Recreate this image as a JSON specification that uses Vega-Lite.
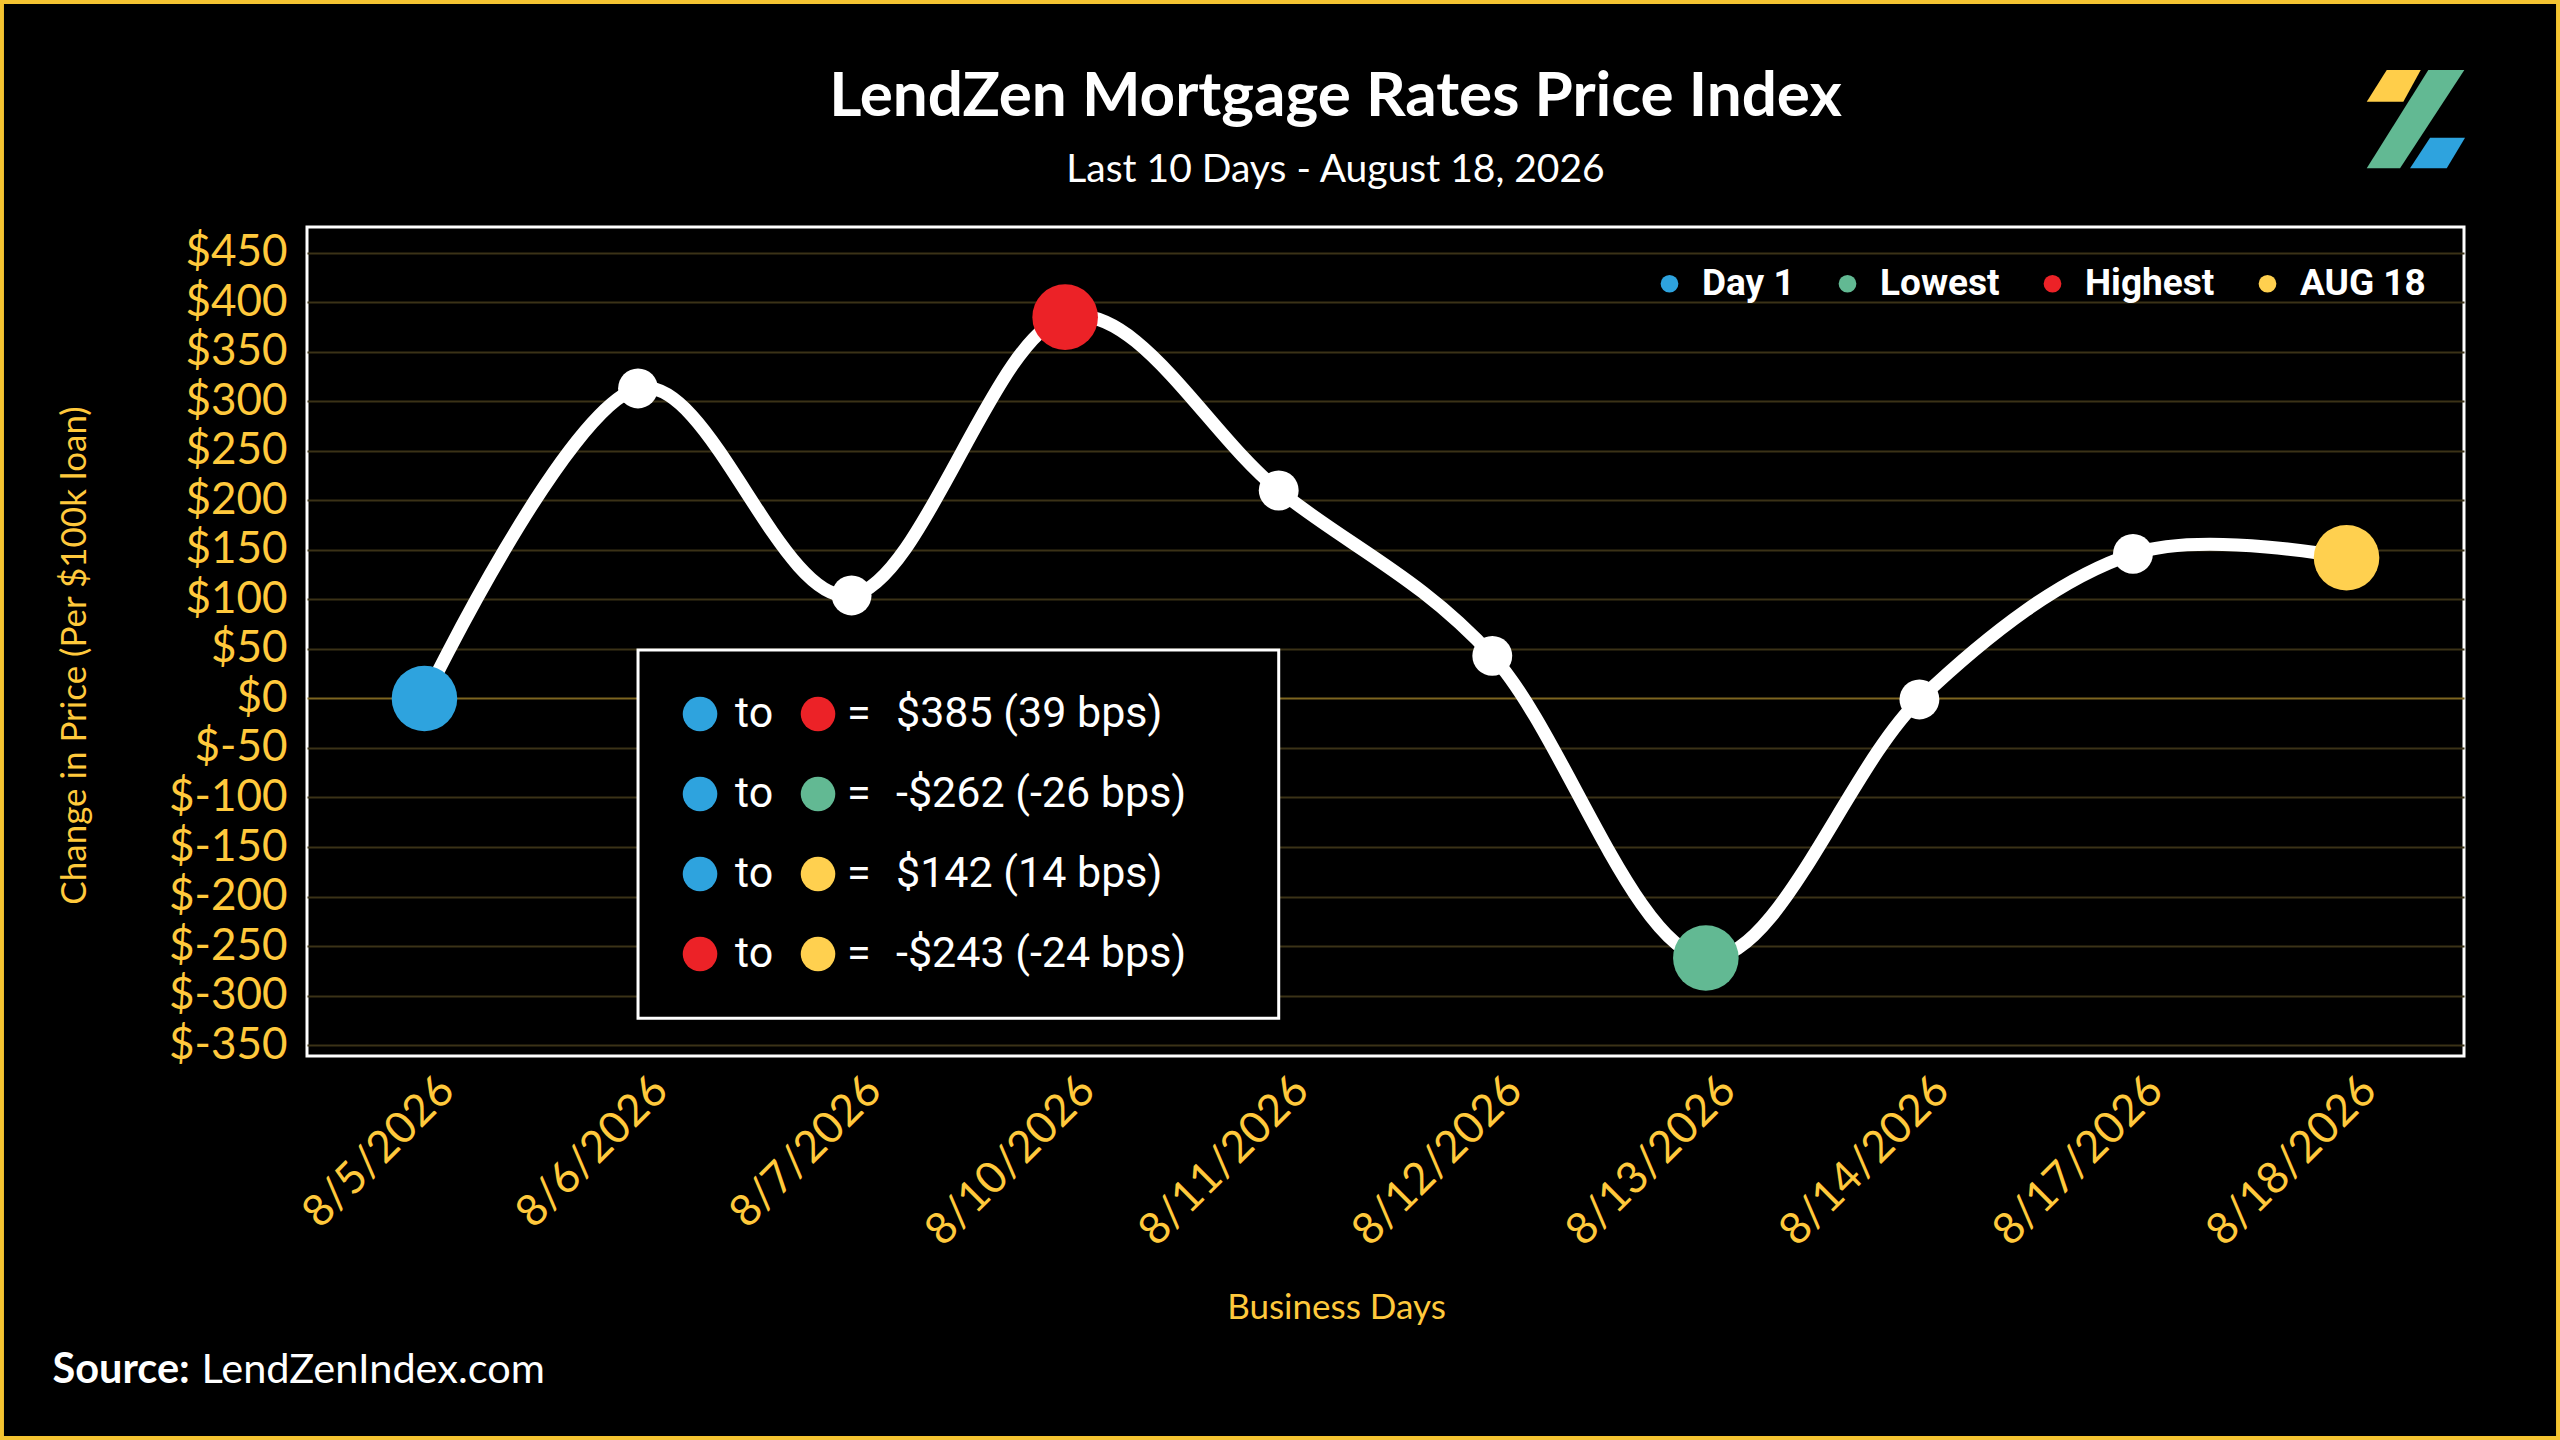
{
  "$schema": "https://vega.github.io/schema/vega-lite/v6.json",
  "autosize": "none",
  "width": 2157,
  "height": 829,
  "padding": {"left": 307, "top": 227, "right": 96, "bottom": 384},
  "background": "#000000",
  "title": {
    "text": "LendZen Mortgage Rates Price Index",
    "subtitle": "Last 10 Days - August 18, 2026",
    "anchor": "middle",
    "frame": "group",
    "dx": -50,
    "offset": -191,
    "color": "#ffffff",
    "font": "Lato",
    "fontSize": 62,
    "fontWeight": "bold",
    "subtitleColor": "#ffffff",
    "subtitleFont": "Lato",
    "subtitleFontSize": 39,
    "subtitlePadding": 22
  },
  "datasets": {
    "index": [
      {"day": "8/5/2026", "change": 0, "marker": "Day 1"},
      {"day": "8/6/2026", "change": 313},
      {"day": "8/7/2026", "change": 104},
      {"day": "8/10/2026", "change": 385, "marker": "Highest"},
      {"day": "8/11/2026", "change": 210},
      {"day": "8/12/2026", "change": 43},
      {"day": "8/13/2026", "change": -262, "marker": "Lowest"},
      {"day": "8/14/2026", "change": -1},
      {"day": "8/17/2026", "change": 146},
      {"day": "8/18/2026", "change": 142, "marker": "AUG 18"}
    ],
    "spreads": [
      {"line": 1, "from": "Day 1", "to": "Highest", "result": "$385 (39 bps)"},
      {"line": 2, "from": "Day 1", "to": "Lowest", "result": "-$262 (-26 bps)"},
      {"line": 3, "from": "Day 1", "to": "AUG 18", "result": "$142 (14 bps)"},
      {"line": 4, "from": "Highest", "to": "AUG 18", "result": "-$243 (-24 bps)"}
    ]
  },
  "layer": [
    {
      "data": {"name": "index"},
      "encoding": {
        "x": {
          "field": "day",
          "type": "ordinal",
          "scale": {
            "type": "point",
            "padding": 0.55,
            "domain": ["8/5/2026", "8/6/2026", "8/7/2026", "8/10/2026", "8/11/2026", "8/12/2026", "8/13/2026", "8/14/2026", "8/17/2026", "8/18/2026"]
          },
          "axis": {
            "title": "Business Days",
            "titleColor": "#FFC93C",
            "titleFont": "Lato",
            "titleFontSize": 35,
            "titleFontWeight": "normal",
            "titleX": 1029,
            "titleY": 262,
            "titleBaseline": "alphabetic",
            "labelAngle": -45,
            "labelAlign": "right",
            "labelBaseline": "top",
            "labelFont": "Lato",
            "labelFontSize": 44,
            "labelColor": "#FFC93C",
            "labelPadding": 12,
            "labelOffset": 7,
            "labelLimit": 0,
            "ticks": false,
            "domain": false,
            "grid": false
          }
        },
        "y": {
          "field": "change",
          "type": "quantitative",
          "scale": {"domain": [-361, 476], "nice": false, "zero": false},
          "axis": {
            "title": "Change in Price (Per $100k loan)",
            "titleColor": "#FFC93C",
            "titleFont": "Lato",
            "titleFontSize": 35,
            "titleFontWeight": "normal",
            "titleX": -222,
            "titleY": 428,
            "titleBaseline": "alphabetic",
            "values": [-350, -300, -250, -200, -150, -100, -50, 0, 50, 100, 150, 200, 250, 300, 350, 400, 450],
            "labelExpr": "'$' + datum.value",
            "labelFont": "Lato",
            "labelFontSize": 44,
            "labelColor": "#FFC93C",
            "labelPadding": 20,
            "ticks": false,
            "domain": false,
            "grid": true,
            "gridWidth": 2,
            "gridColor": {"condition": {"test": "datum.value === 0", "value": "#7d6520"}, "value": "#3b3217"}
          }
        }
      },
      "layer": [
        {
          "mark": {"type": "line", "interpolate": "cardinal", "color": "#ffffff", "strokeWidth": 13}
        },
        {
          "mark": {"type": "circle", "color": "#ffffff", "opacity": 1, "size": 1590}
        },
        {
          "transform": [{"filter": "isValid(datum.marker)"}],
          "mark": {"type": "circle", "opacity": 1, "size": 4300},
          "encoding": {
            "color": {
              "field": "marker",
              "type": "nominal",
              "scale": {
                "domain": ["Day 1", "Lowest", "Highest", "AUG 18"],
                "range": ["#2EA3DE", "#62B993", "#EC2227", "#FFD04F"]
              },
              "legend": {
                "title": null,
                "orient": "top-right",
                "direction": "horizontal",
                "offset": 38,
                "padding": 0,
                "symbolType": "circle",
                "symbolSize": 314,
                "symbolStrokeWidth": 0,
                "symbolOpacity": 1,
                "labelFont": "Roboto",
                "labelFontWeight": "bold",
                "labelFontSize": 37,
                "labelColor": "#ffffff",
                "labelOffset": 14,
                "columnPadding": 34
              }
            }
          }
        },
        {
          "transform": [{"filter": "datum.day === '8/6/2026'"}],
          "mark": {"type": "rect", "fill": "#000000", "stroke": "#ffffff", "strokeWidth": 3},
          "encoding": {
            "x": {"datum": "8/6/2026", "type": "ordinal"},
            "x2": {"datum": "8/11/2026"},
            "y": {"datum": 49},
            "y2": {"datum": -323}
          }
        },
        {
          "transform": [{"filter": "datum.day === '8/5/2026'"}],
          "mark": {"type": "rect", "fillOpacity": 0, "stroke": "#F5C431", "strokeWidth": 4, "xOffset": -422.5, "x2Offset": 211.5},
          "encoding": {
            "x": {"datum": "8/5/2026", "type": "ordinal"},
            "x2": {"datum": "8/18/2026"},
            "y": {"datum": 703.2},
            "y2": {"datum": -746.7}
          }
        },
        {
          "transform": [{"filter": "datum.day === '8/5/2026'"}],
          "mark": {"type": "text", "align": "left", "baseline": "alphabetic", "dx": -372, "font": "Lato", "fontWeight": "bold", "fontSize": 41.5, "color": "#ffffff"},
          "encoding": {
            "x": {"datum": "8/5/2026", "type": "ordinal"},
            "y": {"datum": -691},
            "text": {"value": "Source:"}
          }
        },
        {
          "transform": [{"filter": "datum.day === '8/5/2026'"}],
          "mark": {"type": "text", "align": "left", "baseline": "alphabetic", "dx": -223, "font": "Lato", "fontSize": 41.5, "color": "#ffffff"},
          "encoding": {
            "x": {"datum": "8/5/2026", "type": "ordinal"},
            "y": {"datum": -691},
            "text": {"value": "LendZenIndex.com"}
          }
        },
        {
          "transform": [{"filter": "datum.day === '8/18/2026'"}],
          "mark": {"type": "point", "filled": true, "opacity": 1, "size": 40000, "strokeWidth": 0, "color": "#FFCE4A", "shape": "M0.402,-0.441L0.742,-0.441L0.568,-0.124L0.202,-0.124Z"},
          "encoding": {
            "x": {"datum": "8/18/2026", "type": "ordinal"},
            "y": {"datum": 590}
          }
        },
        {
          "transform": [{"filter": "datum.day === '8/18/2026'"}],
          "mark": {"type": "point", "filled": true, "opacity": 1, "size": 40000, "strokeWidth": 0, "color": "#62B993", "shape": "M0.818,-0.441L1.178,-0.441L0.535,0.542L0.202,0.542Z"},
          "encoding": {
            "x": {"datum": "8/18/2026", "type": "ordinal"},
            "y": {"datum": 590}
          }
        },
        {
          "transform": [{"filter": "datum.day === '8/18/2026'"}],
          "mark": {"type": "point", "filled": true, "opacity": 1, "size": 40000, "strokeWidth": 0, "color": "#2EA3DE", "shape": "M0.835,0.236L1.185,0.236L1.002,0.542L0.635,0.542Z"},
          "encoding": {
            "x": {"datum": "8/18/2026", "type": "ordinal"},
            "y": {"datum": 590}
          }
        }
      ]
    },
    {
      "data": {"name": "spreads"},
      "encoding": {
        "x": {"datum": "8/6/2026", "type": "ordinal"},
        "y": {
          "field": "line",
          "type": "quantitative",
          "scale": {"domain": [-5.0875, 5.275], "nice": false, "zero": false, "reverse": true},
          "axis": null
        }
      },
      "layer": [
        {
          "mark": {"type": "circle", "opacity": 1, "size": 1195, "xOffset": 62},
          "encoding": {"color": {"field": "from", "type": "nominal"}}
        },
        {
          "mark": {"type": "circle", "opacity": 1, "size": 1195, "xOffset": 180},
          "encoding": {"color": {"field": "to", "type": "nominal"}}
        },
        {
          "mark": {"type": "text", "align": "left", "baseline": "middle", "dx": 97, "font": "Roboto", "fontSize": 43, "color": "#ffffff"},
          "encoding": {"text": {"value": "to"}}
        },
        {
          "mark": {"type": "text", "align": "left", "baseline": "middle", "dx": 209, "font": "Roboto", "fontSize": 43, "color": "#ffffff"},
          "encoding": {"text": {"value": "="}}
        },
        {
          "mark": {"type": "text", "align": "left", "baseline": "middle", "dx": 258, "font": "Roboto", "fontSize": 43, "color": "#ffffff"},
          "encoding": {"text": {"field": "result"}}
        }
      ]
    }
  ],
  "resolve": {"scale": {"y": "independent"}},
  "config": {
    "view": {"stroke": "#ffffff", "strokeWidth": 3},
    "font": "Lato"
  }
}
